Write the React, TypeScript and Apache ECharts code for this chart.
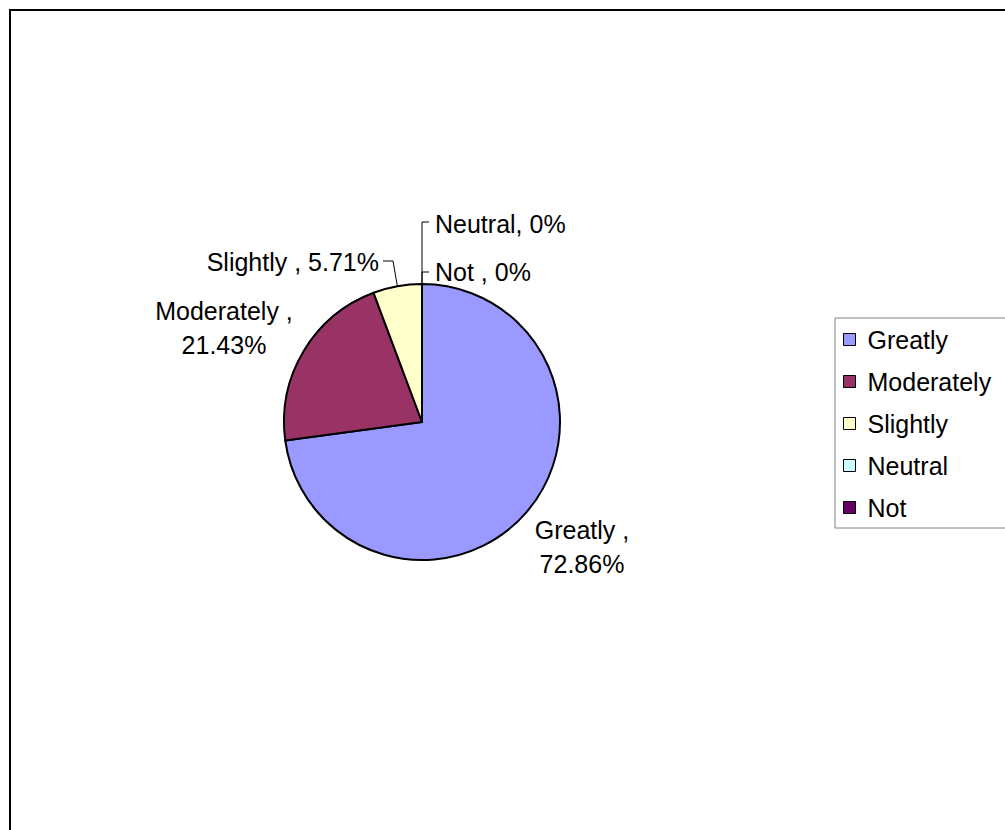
import React, { useEffect, useRef } from "react";
import * as echarts from "echarts";

const categories = ["Greatly", "Moderately", "Slightly", "Neutral", "Not"];
const labelNames = ["Greatly ,", "Moderately ,", "Slightly ,", "Neutral,", "Not ,"];
const percents = [72.86, 21.43, 5.71, 0, 0];
const colors = ["#9999FF", "#993366", "#FFFFCC", "#CCFFFF", "#660066"];

const FONT = "'Liberation Sans', Arial, sans-serif";

export default function App() {
  const ref = useRef<HTMLDivElement>(null);

  useEffect(() => {
    if (!ref.current) return;
    const chart = echarts.init(ref.current, undefined, { renderer: "svg" });

    const data = categories.map((name, i) => ({
      name,
      value: percents[i],
      itemStyle: { color: colors[i] },
      labelLine: { show: i >= 2 },
    }));

    // label anchors (x, y, align) per slice
    const anchors: any[] = [
      { x: 582, y: 547, align: "center" },
      { x: 224, y: 328, align: "center" },
      { x: 379, y: 262, align: "right" },
      { x: 435, y: 224, align: "left" },
      { x: 435, y: 272, align: "left" },
    ];

    chart.setOption({
      animation: false,
      backgroundColor: "#ffffff",
      graphic: [
        {
          type: "rect",
          shape: { x: 10, y: 10, width: 1200, height: 1200 },
          style: { fill: "none", stroke: "#000000", lineWidth: 2 },
          silent: true,
        },
      ],
      legend: {
        orient: "vertical",
        left: 835,
        top: 318,
        data: categories,
        icon: "rect",
        itemWidth: 12,
        itemHeight: 12,
        itemGap: 17,
        padding: [9, 60, 8, 8],
        borderColor: "#808080",
        borderWidth: 1,
        itemStyle: { borderColor: "#000000", borderWidth: 1 },
        textStyle: {
          fontSize: 25,
          fontFamily: FONT,
          color: "#000000",
          padding: [0, 0, 0, 7],
        },
      },
      series: [
        {
          type: "pie",
          center: [422, 422],
          radius: 138,
          startAngle: 90,
          clockwise: true,
          avoidLabelOverlap: false,
          itemStyle: { borderColor: "#000000", borderWidth: 2 },
          emphasis: { disabled: true },
          label: {
            show: true,
            position: "outside",
            fontSize: 25,
            fontFamily: FONT,
            color: "#000000",
            lineHeight: 34,
            formatter: (p: any) => {
              const i = p.dataIndex;
              const sep = i < 2 ? "\n" : " ";
              return `${labelNames[i]}${sep}${percents[i]}%`;
            },
          },
          labelLine: {
            lineStyle: { color: "#000000", width: 1 },
          },
          labelLayout: (params: any) => {
            const i = params.dataIndex;
            const a = anchors[i];
            const start = params.labelLinePoints
              ? params.labelLinePoints[0]
              : [422, 284];
            let pts: any = undefined;
            if (i === 2) {
              pts = [start, [393, a.y - 1], [383, a.y - 1]];
            } else if (i === 3) {
              pts = [start, [start[0], 222], [429, 222]];
            } else if (i === 4) {
              pts = [start, [start[0], 272], [429, 272]];
            }
            const res: any = {
              x: a.x,
              y: a.y,
              align: a.align,
              verticalAlign: "middle",
            };
            if (pts) res.labelLinePoints = pts;
            return res;
          },
          data,
        },
      ],
    });

    return () => chart.dispose();
  }, []);

  return (
    <div
      ref={ref}
      style={{ position: "absolute", left: 0, top: 0, width: 1005, height: 830 }}
    />
  );
}
